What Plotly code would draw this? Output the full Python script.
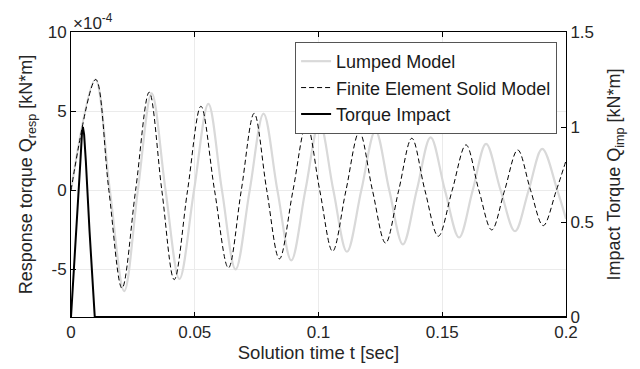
import plotly.graph_objects as go

# Lumped model response (x1e-4 kN*m)
t_lumped = [0, 0.0098, 0.0157, 0.0215, 0.0270, 0.0326, 0.0382, 0.0438, 0.0497, 0.0555,
            0.0610, 0.0665, 0.0722, 0.0778, 0.0834, 0.0890, 0.0947, 0.1004, 0.1060, 0.1115,
            0.1173, 0.1230, 0.1286, 0.1341, 0.1397, 0.1453, 0.1511, 0.1568, 0.1623, 0.1677,
            0.1736, 0.1794, 0.1849, 0.1904, 0.1965, 0.2000]
q_lumped = [0, 7.0, 0, -6.37, 0, 6.13, 0, -5.6, 0, 5.46,
            0, -5.0, 0, 4.85, 0, -4.42, 0, 4.3, 0, -3.88,
            0, 3.77, 0, -3.41, 0, 3.35, 0, -2.98, 0, 2.93,
            0, -2.58, 0, 2.62, 0, -1.8]

# Finite element solid model response (x1e-4 kN*m)
t_fe = [0, 0.0100, 0.0153, 0.0206, 0.0261, 0.0316, 0.0367, 0.0417, 0.0471, 0.0525,
        0.0580, 0.0636, 0.0688, 0.0740, 0.0791, 0.0842, 0.0897, 0.0952, 0.1005, 0.1057,
        0.1111, 0.1165, 0.1218, 0.1271, 0.1324, 0.1377, 0.1430, 0.1484, 0.1540, 0.1596,
        0.1648, 0.1700, 0.1752, 0.1805, 0.1857, 0.1908, 0.1961, 0.2000]
q_fe = [0, 7.0, 0, -6.18, 0, 6.2, 0, -5.64, 0, 5.31,
        0, -4.9, 0, 4.86, 0, -4.33, 0, 4.19, 0, -3.85,
        0, 3.69, 0, -3.33, 0, 3.29, 0, -2.90, 0, 2.87,
        0, -2.5, 0, 2.55, 0, -2.23, 0, 1.88]

# Impact torque (kN*m)
t_imp = [0, 0.0024, 0.0038, 0.0044, 0.0048, 0.0053, 0.0060, 0.0075, 0.0096, 0.2]
q_imp = [0, 0.48, 0.82, 0.96, 1.0, 0.96, 0.82, 0.45, 0, 0]

x_ticks = [0, 0.05, 0.1, 0.15, 0.2]
x_ticktext = ["0", "0.05", "0.1", "0.15", "0.2"]
y_ticks = [-5, 0, 5, 10]
y_ticktext = ["-5", "0", "5", "10"]
y2_ticks = [0, 0.5, 1, 1.5]
y2_ticktext = ["0", "0.5", "1", "1.5"]

FONT = "Liberation Sans, Arial, Helvetica, sans-serif"
grid = "#ebebeb"

fig = go.Figure()
fig.add_trace(go.Scatter(x=t_lumped, y=q_lumped, name="Lumped Model", mode="lines",
                         line=dict(color="#d9d9d9", width=2.2, shape="spline")))
fig.add_trace(go.Scatter(x=t_fe, y=q_fe, name="Finite Element Solid Model", mode="lines",
                         line=dict(color="black", width=1, dash="5px,3px", shape="spline")))
fig.add_trace(go.Scatter(x=t_imp, y=q_imp, name="Torque Impact", mode="lines", yaxis="y2",
                         line=dict(color="black", width=2)))

fig.update_layout(
    width=640, height=369,
    margin=dict(l=71, r=74, t=32, b=52),
    paper_bgcolor="white", plot_bgcolor="white",
    font=dict(family=FONT, size=17, color="#262626"),
    showlegend=True,
    legend=dict(x=0.982, y=0.965, xanchor="right", yanchor="top",
                bgcolor="white", bordercolor="#555555", borderwidth=1,
                font=dict(size=18, color="#1a1a1a"), tracegroupgap=0,
                itemwidth=30),
    xaxis=dict(range=[0, 0.2], tickvals=x_ticks, ticktext=x_ticktext,
               showline=True, linecolor="black", linewidth=1, mirror="ticks",
               ticks="inside", ticklen=5, tickcolor="black", automargin=False,
               showgrid=True, gridcolor=grid, zeroline=False,
               title=dict(text="Solution time t [sec]", font=dict(size=18.5), standoff=4)),
    yaxis=dict(range=[-8, 10], tickvals=y_ticks, ticktext=y_ticktext,
               showline=True, linecolor="black", linewidth=1, automargin=False,
               ticks="inside", ticklen=5, tickcolor="black",
               showgrid=True, gridcolor=grid, zeroline=False,
               title=dict(text="Response torque Q<sub>resp</sub> [kN*m]", font=dict(size=18), standoff=10)),
    yaxis2=dict(range=[0, 1.5], tickvals=y2_ticks, ticktext=y2_ticktext,
                overlaying="y", side="right", automargin=False,
                showline=True, linecolor="black", linewidth=1,
                ticks="inside", ticklen=5, tickcolor="black",
                showgrid=False, zeroline=False,
                title=dict(text="Impact Torque Q<sub>imp</sub> [kN*m]", font=dict(size=18), standoff=14)),
    annotations=[dict(text="\u00d710<sup>-4</sup>", xref="paper", yref="paper",
                      x=0, y=1, xanchor="left", yanchor="bottom", showarrow=False,
                      font=dict(size=17, color="#262626"), yshift=-3)],
)

fig.write_html("out.html")
